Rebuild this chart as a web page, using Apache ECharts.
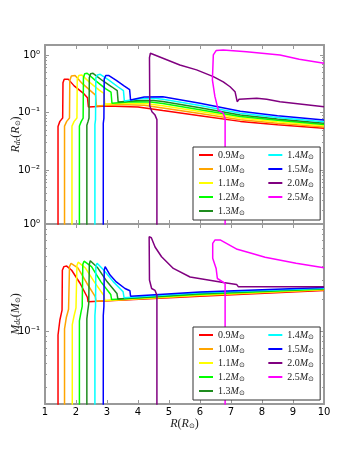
<!DOCTYPE html>
<html>
<head>
<meta charset="utf-8">
<script src="https://cdn.jsdelivr.net/npm/echarts@6/dist/echarts.min.js"></script>
<style>
  html, body { margin: 0; padding: 0; background: #fff; }
  #chart { width: 360px; height: 450px; }
</style>
</head>
<body>
<div id="chart"></div>
<script>
// masses and line colours
var masses = ["0.9", "1.0", "1.1", "1.2", "1.3", "1.4", "1.5", "2.0", "2.5"];
var colors = ["#ff0000", "#ffa500", "#ffff00", "#00ff00", "#1e8c1e", "#00ffff", "#0000ff", "#800080", "#ff00ff"];

// R_dc (R_sun) against R (R_sun), top panel
var rdc09 = [[1.42,1e-4],[1.42,0.057],[1.48,0.07],[1.57,0.08],[1.58,0.33],[1.62,0.38],[1.75,0.38],[1.94,0.29],[2.26,0.21],[2.37,0.18],[2.40,0.125],[3.0,0.13],[4.0,0.125],[4.8,0.108],[6,0.088],[7.3,0.07],[8.5,0.061],[10,0.053]];
var rdc10 = [[1.63,1e-4],[1.63,0.058],[1.7,0.07],[1.79,0.08],[1.8,0.36],[1.85,0.43],[1.97,0.44],[2.2,0.32],[2.5,0.23],[2.63,0.2],[2.66,0.13],[3.4,0.137],[4.2,0.133],[4.8,0.12],[6,0.096],[7.3,0.075],[8.5,0.065],[10,0.056]];
var rdc11 = [[1.87,1e-4],[1.87,0.058],[1.94,0.07],[2.03,0.08],[2.04,0.37],[2.09,0.44],[2.18,0.45],[2.45,0.33],[2.75,0.245],[2.9,0.215],[2.93,0.14],[3.6,0.145],[4.3,0.142],[4.8,0.131],[6,0.104],[7.3,0.08],[8.5,0.069],[10,0.059]];
var rdc12 = [[2.11,1e-4],[2.11,0.058],[2.17,0.07],[2.23,0.08],[2.24,0.4],[2.28,0.47],[2.36,0.48],[2.65,0.35],[2.95,0.26],[3.13,0.225],[3.16,0.145],[3.8,0.153],[4.4,0.152],[4.8,0.143],[6,0.112],[7.3,0.085],[8.5,0.073],[10,0.062]];
var rdc13 = [[2.35,1e-4],[2.35,0.06],[2.39,0.07],[2.42,0.08],[2.43,0.4],[2.47,0.47],[2.55,0.48],[2.85,0.36],[3.15,0.28],[3.33,0.24],[3.36,0.152],[4.0,0.162],[4.5,0.162],[4.8,0.155],[6,0.121],[7.3,0.09],[8.5,0.077],[10,0.065]];
var rdc14 = [[2.61,1e-4],[2.61,0.062],[2.63,0.075],[2.64,0.4],[2.69,0.45],[2.78,0.46],[3.05,0.37],[3.35,0.28],[3.53,0.24],[3.56,0.158],[4.1,0.175],[4.5,0.176],[4.8,0.17],[6,0.132],[7.3,0.097],[8.5,0.082],[10,0.069]];
var rdc15 = [[2.88,1e-4],[2.88,0.065],[2.9,0.08],[2.91,0.38],[2.96,0.44],[3.05,0.44],[3.3,0.36],[3.55,0.29],[3.73,0.25],[3.76,0.165],[4.2,0.185],[4.8,0.188],[6,0.145],[7.3,0.105],[8.5,0.088],[10,0.074]];
var rdc20 = [[4.61,1e-4],[4.61,0.075],[4.55,0.09],[4.45,0.103],[4.38,0.13],[4.37,0.9],[4.4,1.07],[4.46,1.07],[5.35,0.67],[5.89,0.55],[6.43,0.42],[6.75,0.34],[6.97,0.28],[7.13,0.23],[7.2,0.154],[7.26,0.17],[7.83,0.176],[8.15,0.17],[8.58,0.154],[10,0.126]];
var rdc25 = [[6.81,1e-4],[6.81,0.079],[6.75,0.097],[6.59,0.11],[6.48,0.19],[6.4,0.37],[6.43,1.0],[6.52,1.19],[6.75,1.22],[7.5,1.14],[8.58,1.0],[9.2,0.84],[10,0.72]];

// M_dc (M_sun) against R (R_sun), bottom panel
var mdc09 = [[1.42,0.001],[1.42,0.092],[1.48,0.127],[1.55,0.157],[1.56,0.37],[1.61,0.4],[1.7,0.405],[1.86,0.37],[2.13,0.28],[2.37,0.206],[2.39,0.188],[6,0.212],[10,0.24]];
var mdc10 = [[1.63,0.001],[1.63,0.105],[1.69,0.135],[1.76,0.16],[1.79,0.4],[1.84,0.43],[1.9,0.435],[2.06,0.39],[2.35,0.28],[2.62,0.21],[2.65,0.19],[6,0.215],[10,0.243]];
var mdc11 = [[1.88,0.001],[1.88,0.115],[1.94,0.14],[2.0,0.165],[2.03,0.41],[2.07,0.44],[2.12,0.445],[2.3,0.39],[2.6,0.285],[2.9,0.215],[2.93,0.193],[6,0.218],[10,0.245]];
var mdc12 = [[2.11,0.001],[2.11,0.125],[2.16,0.15],[2.2,0.17],[2.22,0.42],[2.26,0.45],[2.31,0.454],[2.5,0.4],[2.8,0.29],[3.12,0.22],[3.15,0.197],[6,0.221],[10,0.247]];
var mdc13 = [[2.35,0.001],[2.35,0.13],[2.38,0.155],[2.41,0.18],[2.43,0.42],[2.46,0.454],[2.5,0.454],[2.7,0.39],[3.0,0.29],[3.32,0.225],[3.35,0.2],[6,0.224],[10,0.25]];
var mdc14 = [[2.61,0.001],[2.61,0.14],[2.63,0.17],[2.64,0.4],[2.68,0.43],[2.72,0.43],[2.9,0.37],[3.2,0.29],[3.52,0.233],[3.55,0.205],[6,0.228],[10,0.252]];
var mdc15 = [[2.88,0.001],[2.88,0.14],[2.9,0.17],[2.91,0.37],[2.94,0.4],[2.97,0.4],[3.1,0.334],[3.3,0.288],[3.58,0.25],[3.74,0.238],[3.76,0.212],[6,0.232],[10,0.255]];
var mdc20 = [[4.61,0.001],[4.61,0.217],[4.55,0.24],[4.44,0.25],[4.37,0.3],[4.36,0.76],[4.38,0.78],[4.43,0.745],[4.55,0.61],[4.76,0.495],[5.14,0.385],[5.68,0.32],[6.75,0.285],[7.18,0.273],[7.24,0.259],[10,0.259]];
var mdc25 = [[6.81,0.001],[6.81,0.279],[6.75,0.29],[6.56,0.31],[6.52,0.385],[6.41,0.478],[6.41,0.66],[6.48,0.708],[6.65,0.71],[7.2,0.58],[7.6,0.54],[8.1,0.49],[9.1,0.43],[10,0.39]];

var rdcTracks = [rdc09, rdc10, rdc11, rdc12, rdc13, rdc14, rdc15, rdc20, rdc25];
var mdcTracks = [mdc09, mdc10, mdc11, mdc12, mdc13, mdc14, mdc15, mdc20, mdc25];

var xTicks = [1, 10];       // R range
var rdcRange = [0.00115, 1.49];
var mdcRange = [0.0209, 1];

var sup = { "0": "\u2070", "1": "\u00b9", "2": "\u00b2", "3": "\u00b3", "-": "\u207b" };
function logLabel(v) {
  var e = Math.log10(v);
  if (Math.abs(e - Math.round(e)) > 1e-6) return "";
  return "10" + String(Math.round(e)).split("").map(function (c) { return sup[c]; }).join("");
}

var axisGrey = "#999999";
function xAxisFor(grid, pos, labels) {
  return {
    type: "value", gridIndex: grid, position: pos, min: xTicks[0], max: xTicks[1], interval: 1,
    axisLine: { lineStyle: { color: axisGrey, width: 2 } },
    axisTick: { inside: true, length: 4, lineStyle: { color: axisGrey } },
    axisLabel: { show: labels, color: "#000", fontFamily: "DejaVu Sans", fontSize: 10, margin: 3 },
    splitLine: { show: false }
  };
}
function yAxisFor(grid, pos, range, labels) {
  return {
    type: "log", logBase: 10, gridIndex: grid, position: pos, min: range[0], max: range[1],
    axisLine: { lineStyle: { color: axisGrey, width: 2 } },
    axisTick: { inside: true, length: 4, lineStyle: { color: axisGrey } },
    minorTick: { show: true, splitNumber: 9, length: 2, lineStyle: { color: axisGrey } },
    axisLabel: { show: labels, color: "#000", fontFamily: "DejaVu Sans", fontSize: 10, margin: 5,
      showMinLabel: false, formatter: logLabel },
    splitLine: { show: false }
  };
}

var nameRich = {
  i: { fontFamily: "Liberation Serif", fontStyle: "italic", fontSize: 12, color: "#222" },
  n: { fontFamily: "Liberation Serif", fontSize: 12, color: "#222" },
  b: { fontFamily: "Liberation Serif", fontStyle: "italic", fontSize: 8, color: "#222", padding: [5, 0, 0, 0] },
  c: { fontFamily: "Liberation Serif", fontSize: 7, color: "#222", padding: [5, 0, 0, 0] }
};

var xAxes = [xAxisFor(0, "bottom", false), xAxisFor(0, "top", false), xAxisFor(1, "bottom", true), xAxisFor(1, "top", false)];
xAxes[2].name = "{i|R}{n|(}{i|R}{c|\u2299}{n|)}";
xAxes[2].nameLocation = "middle";
xAxes[2].nameGap = 14;
xAxes[2].nameMoveOverlap = false;
xAxes[2].nameTextStyle = { rich: nameRich };

var yAxes = [yAxisFor(0, "left", rdcRange, true), yAxisFor(0, "right", rdcRange, false),
             yAxisFor(1, "left", mdcRange, true), yAxisFor(1, "right", mdcRange, false)];
yAxes[0].name = "{i|R}{b|dc}{n|(}{i|R}{c|\u2299}{n|)}";
yAxes[2].name = "{i|M}{b|dc}{n|(}{i|M}{c|\u2299}{n|)}";
[0, 2].forEach(function (k) {
  yAxes[k].nameLocation = "middle";
  yAxes[k].nameGap = 23;
  yAxes[k].nameMoveOverlap = false;
  yAxes[k].nameTextStyle = { rich: nameRich };
});

var series = [];
masses.forEach(function (m, i) {
  series.push({ name: m, type: "line", xAxisIndex: 0, yAxisIndex: 0, data: rdcTracks[i],
    showSymbol: false, color: colors[i], lineStyle: { width: 1.5 } });
  series.push({ name: m, type: "line", xAxisIndex: 2, yAxisIndex: 2, data: mdcTracks[i],
    showSymbol: false, color: colors[i], lineStyle: { width: 1.5 } });
});

function legendFor(top) {
  return {
    data: masses, orient: "vertical", left: 193, top: top, height: 72,
    itemWidth: 14, itemHeight: 2, itemGap: 3.5, icon: "rect",
    padding: [3, 6, 3.5, 6], borderColor: "#333", borderWidth: 1, backgroundColor: "#fff",
    selectedMode: false,
    formatter: function (name) {
      // first column gets an invisible filler so the second column starts further right
      var pad = masses.indexOf(name) < 5 ? "{p|0000}" : "";
      return "{n|" + name + "}{m|M}{s|\u2299}" + pad;
    },
    textStyle: {
      rich: {
        n: { fontFamily: "Liberation Serif", fontSize: 10, color: "#222" },
        m: { fontFamily: "Liberation Serif", fontStyle: "italic", fontSize: 10, color: "#222" },
        s: { fontFamily: "Liberation Serif", fontSize: 7, color: "#222", padding: [4, 0, 0, 0] },
        p: { fontFamily: "Liberation Serif", fontSize: 10, color: "rgba(0,0,0,0)" }
      }
    }
  };
}

var chart = echarts.init(document.getElementById("chart"));
chart.setOption({
  animation: false,
  backgroundColor: "#fff",
  grid: [
    { left: 45, top: 45, width: 279, height: 179, containLabel: false, outerBoundsMode: "none" },
    { left: 45, top: 224, width: 279, height: 180, containLabel: false, outerBoundsMode: "none" }
  ],
  xAxis: xAxes,
  yAxis: yAxes,
  legend: [legendFor(147), legendFor(327)],
  series: series
});
</script>
</body>
</html>
